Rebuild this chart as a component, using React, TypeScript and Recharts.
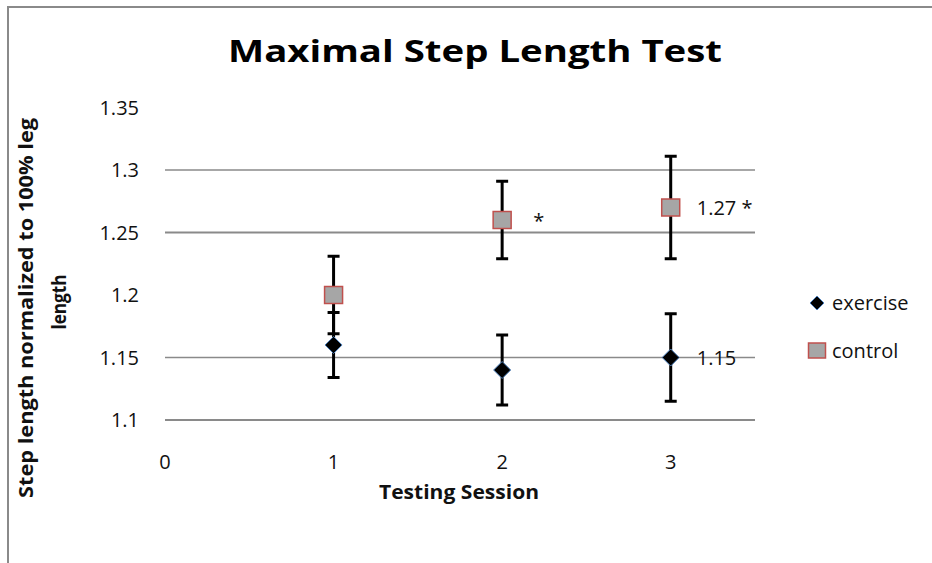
import React from 'react';
import {
  ScatterChart,
  Scatter,
  XAxis,
  YAxis,
  ErrorBar,
  ReferenceLine,
  Legend,
  LabelList,
} from 'recharts';

// ---- data ----
const sessions = [1, 2, 3];
const exerciseMean = [1.16, 1.14, 1.15];
const exerciseErr = [0.026, 0.028, 0.035];
const exerciseLabels = ['', '', '1.15'];
const controlMean = [1.2, 1.26, 1.27];
const controlErr = [0.031, 0.031, 0.041];
const controlLabels = ['', ' *', '1.27 *'];
const xTicks = [0, 1, 2, 3];
const yTicks = [1.1, 1.15, 1.2, 1.25, 1.3, 1.35];
const gridValues = [1.1, 1.15, 1.25, 1.3];
const seriesNames = ['exercise', 'control'];
const chartTitle = 'Maximal Step Length Test';
const xTitle = 'Testing Session';
const yTitleLines = ['Step length normalized to 100% leg', 'length'];

const exerciseData = sessions.map((s, i) => ({
  x: s,
  y: exerciseMean[i],
  err: exerciseErr[i],
  label: exerciseLabels[i],
}));
const controlData = sessions.map((s, i) => ({
  x: s,
  y: controlMean[i],
  err: controlErr[i],
  label: controlLabels[i],
}));

const FONT = "'Open Sans', 'DejaVu Sans', sans-serif";
const gridWidths: Record<string, number> = { '1.1': 2, '1.15': 1.3, '1.25': 2, '1.3': 1.3 };

const Diamond = (props: any) => {
  const { cx, cy } = props;
  const r = 8.5;
  return (
    <polygon
      points={`${cx},${cy - r} ${cx + r},${cy} ${cx},${cy + r} ${cx - r},${cy}`}
      fill="#000"
      stroke="#4f81bd"
      strokeWidth={1}
    />
  );
};

const Square = (props: any) => {
  const { cx, cy } = props;
  return (
    <rect x={cx - 9} y={cy - 8.5} width={18} height={17} fill="#a6a6a6" stroke="#c0504d" strokeWidth={1.5} />
  );
};

const renderLabel = (props: any) => {
  const vb = props.viewBox && typeof props.viewBox.x === 'number' ? props.viewBox : props;
  const value = props.value;
  if (!value) return null;
  const cx = vb.x + (vb.width || 0) / 2;
  const cy = vb.y + (vb.height || 0) / 2;
  return (
    <text
      x={cx + 26}
      y={cy}
      dominantBaseline="central"
      fontFamily={FONT}
      fontSize={20}
      fill="#111"
      style={{ whiteSpace: 'pre' }}
    >
      {value}
    </text>
  );
};

const renderLegend = (props: any) => {
  const payload: any[] = props.payload || [];
  const names = seriesNames.filter(
    (n) => payload.length === 0 || payload.some((p: any) => p.value === n)
  );
  return (
    <div style={{ position: 'relative', width: 132, height: 100, fontFamily: FONT }}>
      {names.map((name: string, i: number) => {
        const top = i === 0 ? 23 : 71;
        const isExercise = name === seriesNames[0];
        return (
          <div key={name} style={{ position: 'absolute', left: 0, top: top - 12, height: 24 }}>
            <svg width={20} height={20} style={{ position: 'absolute', left: 7, top: 2 }}>
              {isExercise ? (
                <polygon points="10,3 17,10 10,17 3,10" fill="#000" stroke="#4f81bd" strokeWidth={1} />
              ) : (
                <rect x={1.5} y={2} width={17} height={15} fill="#a6a6a6" stroke="#c0504d" strokeWidth={1.5} />
              )}
            </svg>
            <span
              style={{
                position: 'absolute',
                left: 32,
                top: 0,
                fontSize: 20,
                lineHeight: '24px',
                color: '#111',
                whiteSpace: 'nowrap',
              }}
            >
              {name}
            </span>
          </div>
        );
      })}
    </div>
  );
};

export default function App() {
  return (
    <div
      style={{
        position: 'absolute',
        left: 0,
        top: 0,
        width: 932,
        height: 563,
        overflow: 'hidden',
        background: '#fff',
      }}
    >
      <div
        style={{
          position: 'absolute',
          left: 7,
          top: 6,
          width: 1000,
          height: 700,
          borderTop: '2px solid #8a8a8a',
          borderLeft: '2.5px solid #8a8a8a',
        }}
      />
      <div style={{ position: 'absolute', left: 0, top: 0 }}>
        <ScatterChart
          width={932}
          height={563}
          margin={{ top: 107.5, right: 177, bottom: 83, left: 105 }}
        >
          <XAxis
            type="number"
            dataKey="x"
            domain={[0, 3.5]}
            ticks={xTicks}
            allowDataOverflow
            axisLine={false}
            tickLine={false}
            tickSize={0}
            tickMargin={35}
            height={60}
            tick={{ fill: '#111', fontSize: 20, fontFamily: FONT }}
          />
          <YAxis
            type="number"
            dataKey="y"
            domain={[1.1, 1.35]}
            ticks={yTicks}
            allowDataOverflow
            axisLine={false}
            tickLine={false}
            tickSize={0}
            tickMargin={26}
            width={60}
            tick={{ fill: '#111', fontSize: 20, fontFamily: FONT }}
          />
          {gridValues.map((v) => (
            <ReferenceLine
              key={v}
              y={v}
              stroke="#8a8a8a"
              strokeWidth={gridWidths[String(v)] || 1.5}
              ifOverflow="extendDomain"
            />
          ))}
          <Legend
            layout="vertical"
            align="center"
            verticalAlign="middle"
            wrapperStyle={{ left: 800, top: 280, width: 132, height: 100 }}
            content={renderLegend}
          />
          <Scatter
            name={seriesNames[0]}
            data={exerciseData}
            fill="#000"
            shape={(p: any) => <Diamond {...p} />}
            isAnimationActive={false}
          >
            <ErrorBar dataKey="err" direction="y" width={6} stroke="#000" strokeWidth={3} />
            <LabelList dataKey="label" content={renderLabel} />
          </Scatter>
          <Scatter
            name={seriesNames[1]}
            data={controlData}
            fill="#a6a6a6"
            shape={(p: any) => <Square {...p} />}
            isAnimationActive={false}
          >
            <ErrorBar dataKey="err" direction="y" width={6} stroke="#000" strokeWidth={3} />
            <LabelList dataKey="label" content={renderLabel} />
          </Scatter>
        </ScatterChart>
      </div>
      <svg
        width={932}
        height={563}
        style={{ position: 'absolute', left: 0, top: 0, pointerEvents: 'none' }}
      >
        <text
          x={228}
          y={62}
          fontFamily={FONT}
          fontWeight="bold"
          fontSize={31}
          fill="#000"
          textLength={494}
          lengthAdjust="spacingAndGlyphs"
        >
          {chartTitle}
        </text>
        <text
          x={379}
          y={499}
          fontFamily={FONT}
          fontWeight="bold"
          fontSize={20}
          fill="#111"
          textLength={160}
          lengthAdjust="spacingAndGlyphs"
        >
          {xTitle}
        </text>
        <text
          transform="translate(32.5, 308) rotate(-90)"
          x={0}
          y={0}
          textAnchor="middle"
          fontFamily={FONT}
          fontWeight="bold"
          fontSize={19}
          fill="#111"
          textLength={380}
          lengthAdjust="spacingAndGlyphs"
        >
          {yTitleLines[0]}
        </text>
        <text
          transform="translate(65.5, 302) rotate(-90)"
          x={0}
          y={0}
          textAnchor="middle"
          fontFamily={FONT}
          fontWeight="bold"
          fontSize={19}
          fill="#111"
          textLength={55}
          lengthAdjust="spacingAndGlyphs"
        >
          {yTitleLines[1]}
        </text>
      </svg>
    </div>
  );
}
